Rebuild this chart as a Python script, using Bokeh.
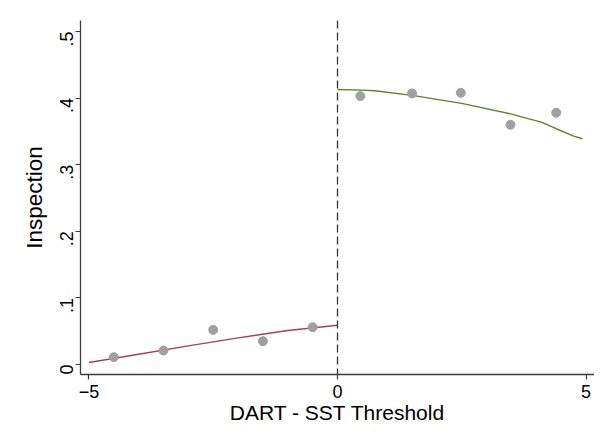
from bokeh.plotting import figure
from bokeh.models import Range1d, FixedTicker, CustomJSTickFormatter, Span
from bokeh.embed import file_html
from bokeh.resources import INLINE
import math

# Binned means
bins_left = [-4.5, -3.5, -2.5, -1.5, -0.5]
means_left = [0.011, 0.021, 0.052, 0.035, 0.056]
bins_right = [0.46, 1.5, 2.48, 3.48, 4.4]
means_right = [0.403, 0.407, 0.408, 0.360, 0.378]

# Fitted curves
fit_left_x = [-5.0, -4.0, -3.0, -2.0, -1.0, 0.0]
fit_left_y = [0.003, 0.0155, 0.028, 0.040, 0.051, 0.059]
fit_right_x = [0.0, 0.5, 0.75, 1.5, 2.5, 3.5, 4.1, 4.4, 4.75, 4.93]
fit_right_y = [0.413, 0.412, 0.411, 0.404, 0.392, 0.376, 0.364, 0.354, 0.343, 0.339]

x_ticks = [-5, 0, 5]
y_ticks = [0, 0.1, 0.2, 0.3, 0.4, 0.5]

FONT = "Liberation Sans"

p = figure(width=594, height=436, output_backend="svg", toolbar_location=None,
           x_range=Range1d(-5.17, 5.17), y_range=Range1d(-0.015, 0.5165),
           min_border_left=80, min_border_right=0, min_border_top=20, min_border_bottom=62)
p.outline_line_color = None
p.xgrid.visible = False
p.ygrid.visible = False
p.background_fill_color = "white"
p.border_fill_color = "white"

p.add_layout(Span(location=0, dimension="height", line_color="#333333",
                  line_width=1.3, line_dash="8 4"))

p.line(fit_left_x, fit_left_y, line_color="#a3424f", line_width=1.4)
p.line(fit_right_x, fit_right_y, line_color="#5f8232", line_width=1.4)

p.scatter(bins_left, means_left, size=9, fill_color="#a0a0a0", line_color="#a0a0a0")
p.scatter(bins_right, means_right, size=9, fill_color="#a0a0a0", line_color="#a0a0a0")

for ax in (p.xaxis[0], p.yaxis[0]):
    ax.axis_line_color = "#3c3c3c"
    ax.axis_line_width = 1.3
    ax.major_tick_line_color = "#3c3c3c"
    ax.major_tick_line_width = 1.2
    ax.major_tick_out = 5
    ax.major_tick_in = 0
    ax.minor_tick_out = 0
    ax.minor_tick_in = 0
    ax.major_label_text_font = FONT
    ax.major_label_text_font_size = "18px"
    ax.major_label_text_color = "black"
    ax.axis_label_text_font = FONT
    ax.axis_label_text_font_style = "normal"
    ax.axis_label_text_color = "black"

p.xaxis.ticker = FixedTicker(ticks=x_ticks)
p.xaxis.axis_label = "DART - SST Threshold"
p.xaxis.axis_label_text_font_size = "21px"
p.xaxis.major_label_standoff = 5
p.xaxis.axis_label_standoff = 0

p.yaxis.ticker = FixedTicker(ticks=y_ticks)
p.yaxis.formatter = CustomJSTickFormatter(code="""
    if (Math.abs(tick) < 1e-9) return "0";
    return tick.toFixed(1).replace(/^0/, "");
""")
p.yaxis.major_label_orientation = math.pi / 2
p.yaxis.axis_label = "Inspection"
p.yaxis.axis_label_text_font_size = "22.5px"
p.yaxis.major_label_standoff = 9
p.yaxis.axis_label_standoff = 4

open("out.html", "w").write(file_html(p, INLINE))
